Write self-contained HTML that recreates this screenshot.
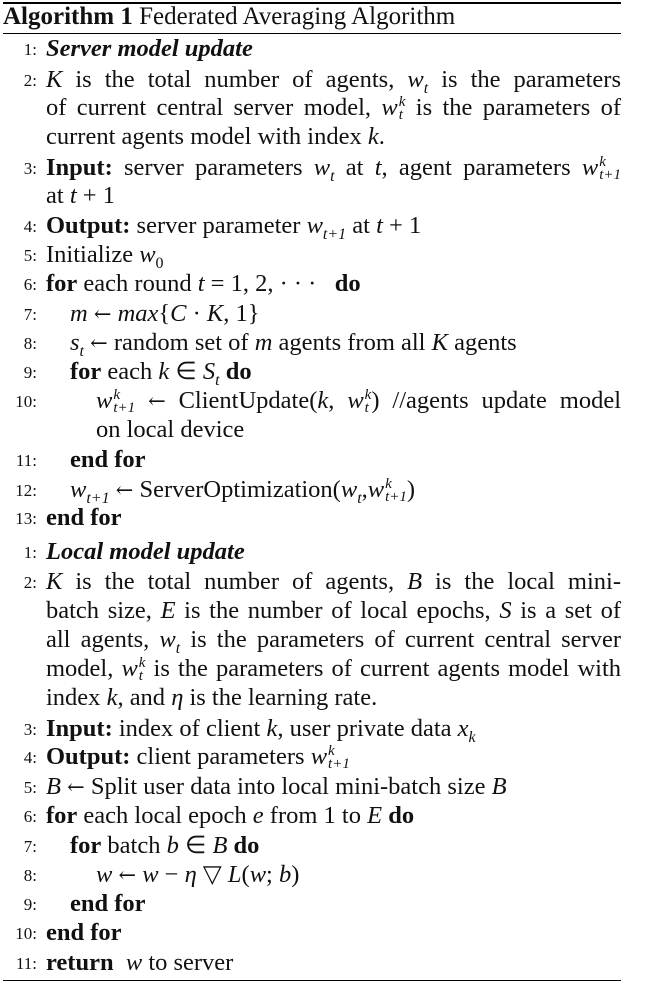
<!DOCTYPE html>
<html><head><meta charset="utf-8"><style>
body{margin:0;background:#fff;width:669px;height:984px;position:relative;overflow:hidden;font-family:"Liberation Serif",serif;color:#111}
.r{position:absolute;left:3px;width:618px;height:1.5px;background:#000}
.l{position:absolute;font-size:24.5px;line-height:26px;white-space:nowrap}
.n{position:absolute;font-size:17px;line-height:28px;width:37px;text-align:right;left:0}
.j{width:575px;text-align:justify;text-align-last:justify;white-space:normal}
i{font-style:italic}
sub,sup{font-size:16px;line-height:0}
.a{font-family:"DejaVu Serif",serif;font-size:21px}
.ss{display:inline-flex;flex-direction:column;vertical-align:middle;font-size:15px;line-height:13px;font-style:italic;margin-left:1px}
</style></head><body>
<div class="r" style="top:2px"></div>
<div class="l" style="left:3px;top:4px;font-size:25px"><b>Algorithm 1</b> Federated Averaging Algorithm</div>
<div class="r" style="top:33px;height:1px"></div>

<div>
<div class="n" style="top:36px">1:</div><div class="l" style="left:46px;top:36px"><b><i>Server model update</i></b></div>
<div class="n" style="top:67px">2:</div><div class="l j" style="left:46px;top:67px"><i>K</i> is the total number of agents, <i>w<sub>t</sub></i> is the parameters</div>
<div class="l j" style="left:46px;top:95px">of current central server model, <i>w</i><span class="ss"><span>k</span><span>t</span></span> is the parameters of</div>
<div class="l" style="left:46px;top:124px">current agents model with index <i>k</i>.</div>
<div class="n" style="top:155px">3:</div><div class="l j" style="left:46px;top:155px"><b>Input:</b> server parameters <i>w<sub>t</sub></i> at <i>t</i>, agent parameters <i>w</i><span class="ss"><span>k</span><span>t+1</span></span></div>
<div class="l" style="left:46px;top:183px">at <i>t</i> + 1</div>
<div class="n" style="top:213px">4:</div><div class="l" style="left:46px;top:213px"><b>Output:</b> server parameter <i>w<sub>t+1</sub></i> at <i>t</i> + 1</div>
<div class="n" style="top:242px">5:</div><div class="l" style="left:46px;top:242px">Initialize <i>w</i><sub>0</sub></div>
<div class="n" style="top:271px">6:</div><div class="l" style="left:46px;top:271px"><b>for</b> each round <i>t</i> = 1, 2, · · · &nbsp;&nbsp;<b>do</b></div>
<div class="n" style="top:301px">7:</div><div class="l" style="left:70px;top:301px"><i>m</i> <span class="a">←</span> <i>max</i>{<i>C</i> · <i>K</i>, 1}</div>
<div class="n" style="top:330px">8:</div><div class="l" style="left:70px;top:330px"><i>s<sub>t</sub></i> <span class="a">←</span> random set of <i>m</i> agents from all <i>K</i> agents</div>
<div class="n" style="top:359px">9:</div><div class="l" style="left:70px;top:359px"><b>for</b> each <i>k</i> ∈ <i>S<sub>t</sub></i> <b>do</b></div>
<div class="n" style="top:388px">10:</div><div class="l" style="left:96px;top:388px;width:525px;text-align:justify;text-align-last:justify;white-space:normal"><i>w</i><span class="ss"><span>k</span><span>t+1</span></span> <span class="a">←</span> ClientUpdate(<i>k</i>, <i>w</i><span class="ss"><span>k</span><span>t</span></span>) //agents update model</div>
<div class="l" style="left:96px;top:417px">on local device</div>
<div class="n" style="top:447px">11:</div><div class="l" style="left:70px;top:447px"><b>end for</b></div>
<div class="n" style="top:477px">12:</div><div class="l" style="left:70px;top:477px"><i>w<sub>t+1</sub></i> <span class="a">←</span> ServerOptimization(<i>w<sub>t</sub></i>,<i>w</i><span class="ss"><span>k</span><span>t+1</span></span>)</div>
<div class="n" style="top:505px">13:</div><div class="l" style="left:46px;top:505px"><b>end for</b></div>
</div>

<div>
<div class="n" style="top:539px">1:</div><div class="l" style="left:46px;top:539px"><b><i>Local model update</i></b></div>
<div class="n" style="top:569px">2:</div><div class="l j" style="left:46px;top:569px"><i>K</i> is the total number of agents, <i>B</i> is the local mini-</div>
<div class="l j" style="left:46px;top:598px">batch size, <i>E</i> is the number of local epochs, <i>S</i> is a set of</div>
<div class="l j" style="left:46px;top:627px">all agents, <i>w<sub>t</sub></i> is the parameters of current central server</div>
<div class="l j" style="left:46px;top:656px">model, <i>w</i><span class="ss"><span>k</span><span>t</span></span> is the parameters of current agents model with</div>
<div class="l" style="left:46px;top:685px">index <i>k</i>, and <i>η</i> is the learning rate.</div>
<div class="n" style="top:716px">3:</div><div class="l" style="left:46px;top:716px"><b>Input:</b> index of client <i>k</i>, user private data <i>x<sub>k</sub></i></div>
<div class="n" style="top:744px">4:</div><div class="l" style="left:46px;top:744px"><b>Output:</b> client parameters <i>w</i><span class="ss"><span>k</span><span>t+1</span></span></div>
<div class="n" style="top:774px">5:</div><div class="l" style="left:46px;top:774px"><i>B</i> <span class="a">←</span> Split user data into local mini-batch size <i>B</i></div>
<div class="n" style="top:803px">6:</div><div class="l" style="left:46px;top:803px"><b>for</b> each local epoch <i>e</i> from 1 to <i>E</i> <b>do</b></div>
<div class="n" style="top:833px">7:</div><div class="l" style="left:70px;top:833px"><b>for</b> batch <i>b</i> ∈ <i>B</i> <b>do</b></div>
<div class="n" style="top:862px">8:</div><div class="l" style="left:96px;top:862px"><i>w</i> <span class="a">←</span> <i>w</i> − <i>η</i> ▽ <i>L</i>(<i>w</i>; <i>b</i>)</div>
<div class="n" style="top:891px">9:</div><div class="l" style="left:70px;top:891px"><b>end for</b></div>
<div class="n" style="top:920px">10:</div><div class="l" style="left:46px;top:920px"><b>end for</b></div>
<div class="n" style="top:950px">11:</div><div class="l" style="left:46px;top:950px"><b>return</b> &nbsp;<i>w</i> to server</div>
</div>
<div class="r" style="top:980px;height:1px"></div>
</body></html>
